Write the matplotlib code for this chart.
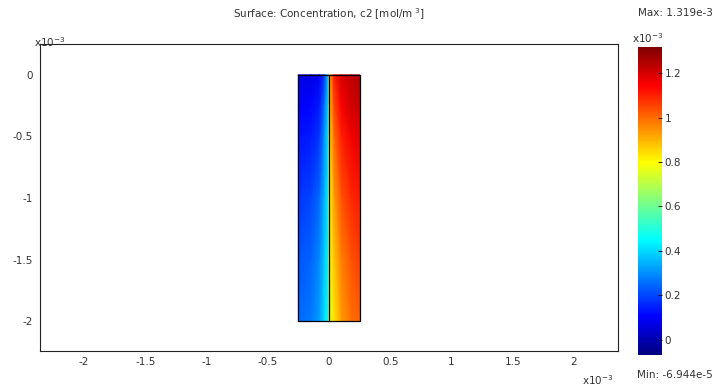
import numpy as np
import matplotlib.pyplot as plt
from matplotlib.colors import LinearSegmentedColormap

# values in units of 1e-3 (m for coordinates, mol/m^3 for concentration)
x_left = [-0.25, -0.15, -0.08, -0.04, 0.0]
x_right = [0.0, 0.04, 0.10, 0.18, 0.25]
y_rows = [0.0, -0.25, -0.5, -1.0, -1.5, -2.0]

c_left = [
    [0.07, 0.07, 0.09, 0.17, 0.42],
    [0.10, 0.11, 0.14, 0.25, 0.44],
    [0.13, 0.14, 0.18, 0.29, 0.45],
    [0.18, 0.20, 0.25, 0.34, 0.46],
    [0.22, 0.24, 0.29, 0.37, 0.47],
    [0.25, 0.27, 0.32, 0.40, 0.48],
]
c_right = [
    [0.88, 1.10, 1.19, 1.23, 1.25],
    [0.86, 1.04, 1.15, 1.20, 1.22],
    [0.83, 0.99, 1.10, 1.16, 1.18],
    [0.79, 0.92, 1.03, 1.09, 1.11],
    [0.77, 0.87, 0.97, 1.03, 1.06],
    [0.75, 0.83, 0.93, 0.99, 1.01],
]
c_min, c_max = -0.06944, 1.319

x_ticks = [-2, -1.5, -1, -0.5, 0, 0.5, 1, 1.5, 2]
y_ticks = [0, -0.5, -1, -1.5, -2]
cb_ticks = [0, 0.2, 0.4, 0.6, 0.8, 1, 1.2]

# MATLAB-style jet (yellow at 5/8, cyan at 3/8)
jet_m = LinearSegmentedColormap('jet_m', {
    'red':   [(0, 0, 0), (0.375, 0, 0), (0.625, 1, 1), (0.875, 1, 1), (1, 0.5, 0.5)],
    'green': [(0, 0, 0), (0.125, 0, 0), (0.375, 1, 1), (0.625, 1, 1), (0.875, 0, 0), (1, 0, 0)],
    'blue':  [(0, 0.5, 0.5), (0.125, 1, 1), (0.375, 1, 1), (0.625, 0, 0), (1, 0, 0)],
})

fig = plt.figure(figsize=(7.17, 3.88), dpi=100)
ax = fig.add_axes([40 / 717, 1 - 351 / 388, 578 / 717, 307 / 388])
cax = fig.add_axes([638 / 717, 1 - 355 / 388, 24 / 717, 308 / 388])

txt = dict(fontsize=7.5, color='#333333')

for xs, cs in ((x_left, c_left), (x_right, c_right)):
    X, Y = np.meshgrid(xs, y_rows)
    mesh = ax.pcolormesh(X, Y, np.array(cs), cmap=jet_m, vmin=c_min, vmax=c_max,
                         shading='gouraud')

# domain boundaries
ax.plot([-0.25, 0.25, 0.25, -0.25, -0.25], [0, 0, -2, -2, 0], color='black', lw=0.9)
ax.plot([0, 0], [0, -2], color='black', lw=0.9)

ax.set_xlim(-2.36, 2.36)
ax.set_ylim(-2.24, 0.25)
ax.set_xticks(x_ticks)
ax.set_xticklabels(['%g' % t for t in x_ticks])
ax.set_yticks(y_ticks)
ax.set_yticklabels(['%g' % t for t in y_ticks])
ax.tick_params(length=0, labelsize=7.5, labelcolor='#333333')
ax.tick_params(axis='x', pad=4)
ax.tick_params(axis='y', pad=5)
for s in ax.spines.values():
    s.set_linewidth(0.8)
    s.set_color('#222222')

cb = fig.colorbar(mesh, cax=cax, ticks=cb_ticks)
cb.ax.set_yticklabels(['%g' % t for t in cb_ticks])
cb.ax.tick_params(direction='in', length=3, width=0.6, labelsize=7.5,
                  labelcolor='#333333', pad=2)
cb.outline.set_visible(False)

fig.text(329 / 717, 1 - 14 / 388, 'Surface: Concentration, c2 [mol/m$^{\\ 3}$]',
         ha='center', va='center', **txt)
fig.text(675 / 717, 1 - 13 / 388, 'Max: 1.319e-3', ha='center', va='center', **txt)
fig.text(675 / 717, 1 - 375 / 388, 'Min: -6.944e-5', ha='center', va='center', **txt)
fig.text(648 / 717, 1 - 38 / 388, 'x10$^{-3}$', ha='center', va='center', **txt)
fig.text(50 / 717, 1 - 42 / 388, 'x10$^{-3}$', ha='center', va='center', **txt)
fig.text(598 / 717, 1 - 380 / 388, 'x10$^{-3}$', ha='center', va='center', **txt)

fig.savefig('out.png', dpi=100)
